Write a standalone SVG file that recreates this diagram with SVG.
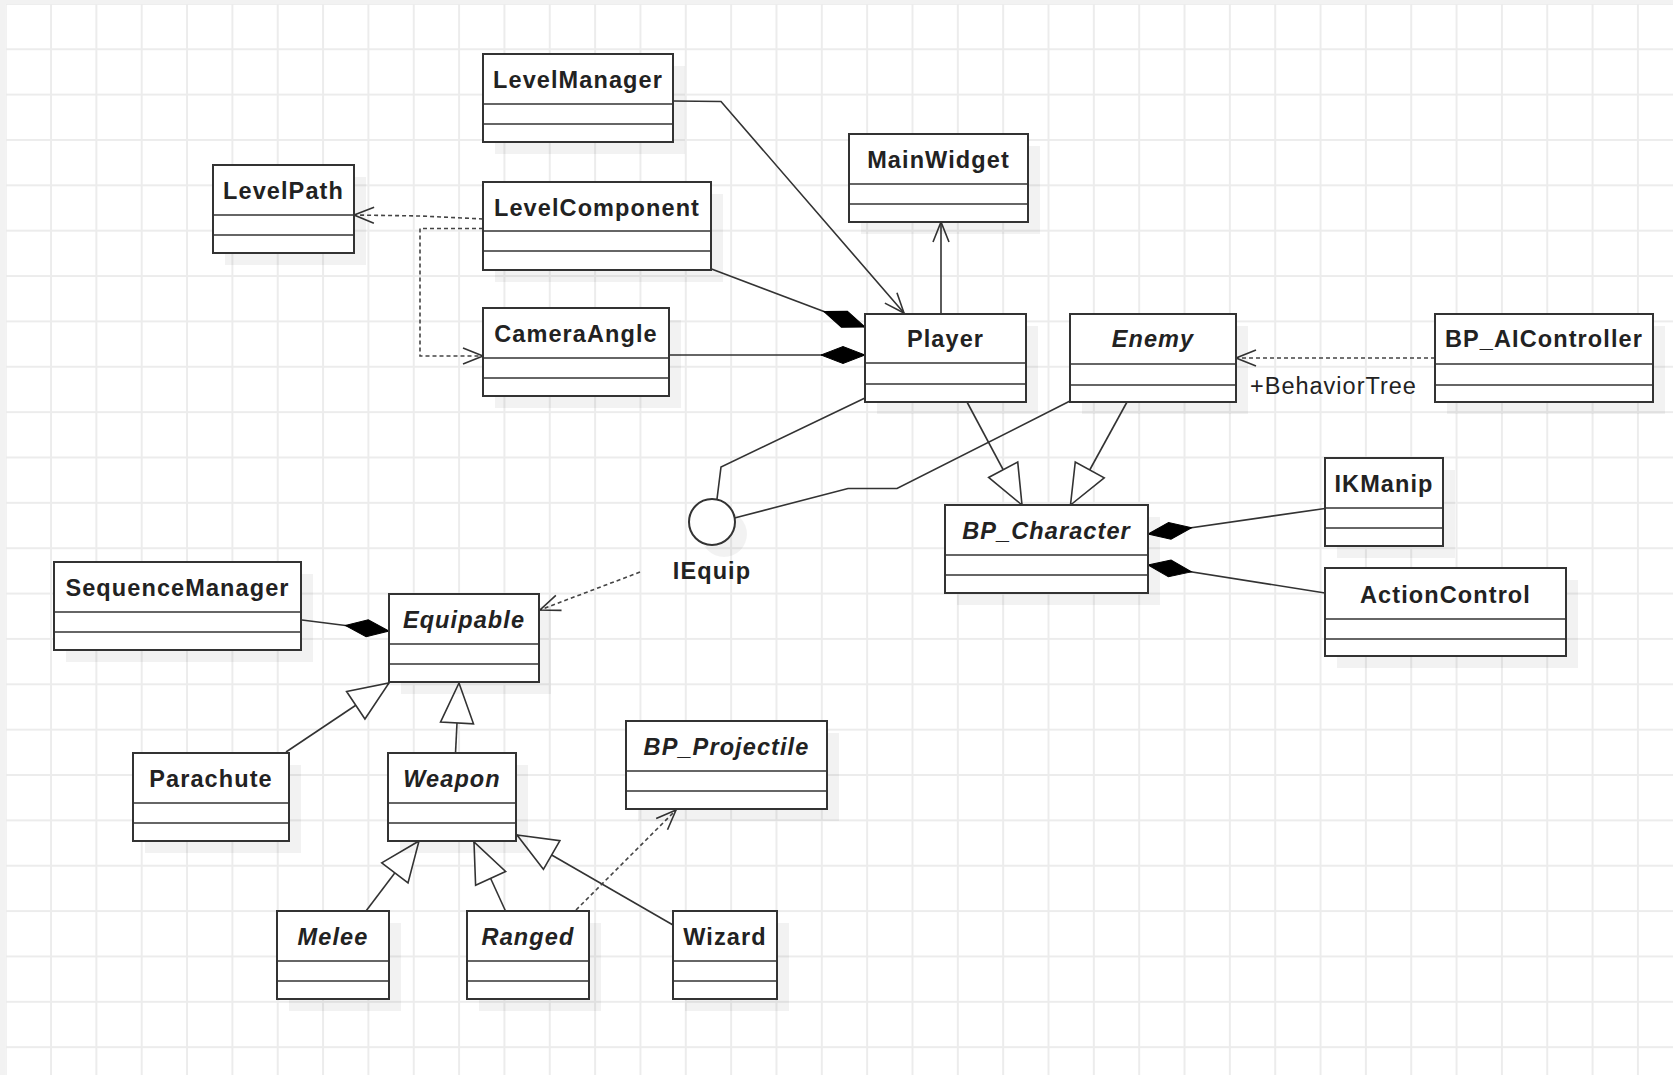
<svg xmlns="http://www.w3.org/2000/svg" width="1673" height="1075" viewBox="0 0 1673 1075">
<style>
.bg{fill:#f2f2f2}
.paper{fill:#ffffff}
.sh{fill:#000;opacity:0.05}
.box{fill:#ffffff;stroke:#333;stroke-width:2}
.div{stroke:#333;stroke-width:1.6}
.name{font-family:"Liberation Sans",Arial,sans-serif;font-size:23.5px;font-weight:bold;letter-spacing:1.1px;fill:#222;text-anchor:middle}
.abs{font-style:italic}
.lbl{font-family:"Liberation Sans",Arial,sans-serif;font-size:23.5px;letter-spacing:1px;fill:#222}
.e{fill:none;stroke:#333;stroke-width:1.6}
.d{fill:none;stroke:#444;stroke-width:1.6;stroke-dasharray:4 3}
</style>
<defs>
<pattern id="grid" x="4.7" y="2.9" width="45.34" height="45.36" patternUnits="userSpaceOnUse">
<path d="M1,0 V45.36 M0,1 H45.34" stroke="#ececec" stroke-width="2" fill="none"/>
</pattern>
<marker id="open" markerUnits="userSpaceOnUse" markerWidth="26" markerHeight="22" refX="21" refY="10" orient="auto" overflow="visible">
<path d="M1,2 L21,10 L1,18" fill="none" stroke="#333" stroke-width="1.6"/>
</marker>
<marker id="tri" markerUnits="userSpaceOnUse" markerWidth="46" markerHeight="38" refX="41" refY="18" orient="auto" overflow="visible">
<path d="M1,1.5 L41,18 L1,34.5 Z" fill="#fff" stroke="#333" stroke-width="1.6"/>
</marker>
<marker id="dia" markerUnits="userSpaceOnUse" markerWidth="48" markerHeight="22" refX="44" refY="10" orient="auto" overflow="visible">
<path d="M0,10 L22,1.5 L44,10 L22,18.5 Z" fill="#000" stroke="#000" stroke-width="1"/>
</marker>
</defs>
<rect class="bg" x="0" y="0" width="1673" height="1075"/>
<rect class="paper" x="5.7" y="3.9" width="1668" height="1072"/>
<rect x="5.7" y="3.9" width="1668" height="1072" fill="url(#grid)"/>

<g id="connectors">
<polyline class="e" points="673,101 721,101.5 904,313" marker-end="url(#open)"/>
<line class="e" x1="941" y1="314" x2="941" y2="222" marker-end="url(#open)"/>
<line class="e" x1="711.5" y1="269" x2="865" y2="327" marker-end="url(#dia)"/>
<line class="e" x1="668.5" y1="355" x2="865" y2="355" marker-end="url(#dia)"/>
<polyline class="d" points="483,219 421,216 354,215" marker-end="url(#open)"/>
<polyline class="d" points="483,228.5 420,228.5 420,356 483,356" marker-end="url(#open)"/>
<line class="d" x1="1435" y1="358" x2="1236" y2="358" marker-end="url(#open)"/>
<line class="e" x1="967" y1="402" x2="1022" y2="505" marker-end="url(#tri)"/>
<line class="e" x1="1127" y1="402" x2="1070.5" y2="505" marker-end="url(#tri)"/>
<line class="e" x1="1325" y1="508.5" x2="1148" y2="534" marker-end="url(#dia)"/>
<line class="e" x1="1325" y1="593" x2="1148" y2="565" marker-end="url(#dia)"/>
<polyline class="e" points="865,398 721,467 717,499"/>
<polyline class="e" points="1070,401 897,488.5 848,488.5 734.5,518"/>
<line class="d" x1="640" y1="572" x2="540" y2="610" marker-end="url(#open)"/>
<line class="e" x1="302" y1="620" x2="389" y2="631" marker-end="url(#dia)"/>
<line class="e" x1="286" y1="752" x2="389" y2="683" marker-end="url(#tri)"/>
<line class="e" x1="455.5" y1="753" x2="459" y2="683" marker-end="url(#tri)"/>
<line class="e" x1="366" y1="911" x2="419" y2="841" marker-end="url(#tri)"/>
<line class="e" x1="505.5" y1="911" x2="474" y2="842" marker-end="url(#tri)"/>
<line class="e" x1="673" y1="925" x2="517" y2="835" marker-end="url(#tri)"/>
<line class="d" x1="576" y1="910" x2="676" y2="810" marker-end="url(#open)"/>
</g>

<g id="LevelManager"><rect class="sh" x="495" y="66" width="190" height="88"/><rect class="box" x="483" y="54" width="190" height="88"/><line class="div" x1="483" y1="104" x2="673" y2="104"/><line class="div" x1="483" y1="124" x2="673" y2="124"/><text class="name" x="578" y="88">LevelManager</text></g>
<g id="LevelPath"><rect class="sh" x="225" y="177" width="141" height="88"/><rect class="box" x="213" y="165" width="141" height="88"/><line class="div" x1="213" y1="215" x2="354" y2="215"/><line class="div" x1="213" y1="235" x2="354" y2="235"/><text class="name" x="283.5" y="199">LevelPath</text></g>
<g id="LevelComponent"><rect class="sh" x="495" y="194" width="228" height="88"/><rect class="box" x="483" y="182" width="228" height="88"/><line class="div" x1="483" y1="231" x2="711" y2="231"/><line class="div" x1="483" y1="251" x2="711" y2="251"/><text class="name" x="597" y="216">LevelComponent</text></g>
<g id="MainWidget"><rect class="sh" x="861" y="146" width="179" height="88"/><rect class="box" x="849" y="134" width="179" height="88"/><line class="div" x1="849" y1="184" x2="1028" y2="184"/><line class="div" x1="849" y1="204" x2="1028" y2="204"/><text class="name" x="938.5" y="168">MainWidget</text></g>
<g id="CameraAngle"><rect class="sh" x="495" y="320" width="186" height="88"/><rect class="box" x="483" y="308" width="186" height="88"/><line class="div" x1="483" y1="358" x2="669" y2="358"/><line class="div" x1="483" y1="378" x2="669" y2="378"/><text class="name" x="576" y="342">CameraAngle</text></g>
<g id="Player"><rect class="sh" x="877" y="326" width="161" height="88"/><rect class="box" x="865" y="314" width="161" height="88"/><line class="div" x1="865" y1="363" x2="1026" y2="363"/><line class="div" x1="865" y1="384" x2="1026" y2="384"/><text class="name" x="945.5" y="347">Player</text></g>
<g id="Enemy"><rect class="sh" x="1082" y="326" width="166" height="88"/><rect class="box" x="1070" y="314" width="166" height="88"/><line class="div" x1="1070" y1="364" x2="1236" y2="364"/><line class="div" x1="1070" y1="385" x2="1236" y2="385"/><text class="name abs" x="1153" y="347">Enemy</text></g>
<g id="BP_AIController"><rect class="sh" x="1447" y="326" width="218" height="88"/><rect class="box" x="1435" y="314" width="218" height="88"/><line class="div" x1="1435" y1="364" x2="1653" y2="364"/><line class="div" x1="1435" y1="385" x2="1653" y2="385"/><text class="name" x="1544" y="347">BP_AIController</text></g>
<g id="IKManip"><rect class="sh" x="1337" y="470" width="118" height="88"/><rect class="box" x="1325" y="458" width="118" height="88"/><line class="div" x1="1325" y1="508" x2="1443" y2="508"/><line class="div" x1="1325" y1="528" x2="1443" y2="528"/><text class="name" x="1384" y="492">IKManip</text></g>
<g id="BP_Character"><rect class="sh" x="957" y="517" width="203" height="88"/><rect class="box" x="945" y="505" width="203" height="88"/><line class="div" x1="945" y1="555" x2="1148" y2="555"/><line class="div" x1="945" y1="575" x2="1148" y2="575"/><text class="name abs" x="1046.5" y="539">BP_Character</text></g>
<g id="ActionControl"><rect class="sh" x="1337" y="580" width="241" height="88"/><rect class="box" x="1325" y="568" width="241" height="88"/><line class="div" x1="1325" y1="619" x2="1566" y2="619"/><line class="div" x1="1325" y1="639" x2="1566" y2="639"/><text class="name" x="1445.5" y="603">ActionControl</text></g>
<g id="SequenceManager"><rect class="sh" x="66" y="574" width="247" height="88"/><rect class="box" x="54" y="562" width="247" height="88"/><line class="div" x1="54" y1="612" x2="301" y2="612"/><line class="div" x1="54" y1="632" x2="301" y2="632"/><text class="name" x="177.5" y="596">SequenceManager</text></g>
<g id="Equipable"><rect class="sh" x="401" y="606" width="150" height="88"/><rect class="box" x="389" y="594" width="150" height="88"/><line class="div" x1="389" y1="644" x2="539" y2="644"/><line class="div" x1="389" y1="664" x2="539" y2="664"/><text class="name abs" x="464" y="628">Equipable</text></g>
<g id="IEquip"><circle cx="724" cy="534" r="23" class="sh"/><circle cx="712" cy="522" r="23" class="box"/><text class="name" x="712" y="579">IEquip</text></g>
<g id="Parachute"><rect class="sh" x="145" y="765" width="156" height="88"/><rect class="box" x="133" y="753" width="156" height="88"/><line class="div" x1="133" y1="803" x2="289" y2="803"/><line class="div" x1="133" y1="823" x2="289" y2="823"/><text class="name" x="211" y="787">Parachute</text></g>
<g id="Weapon"><rect class="sh" x="400" y="765" width="128" height="88"/><rect class="box" x="388" y="753" width="128" height="88"/><line class="div" x1="388" y1="803" x2="516" y2="803"/><line class="div" x1="388" y1="823" x2="516" y2="823"/><text class="name abs" x="452" y="787">Weapon</text></g>
<g id="BP_Projectile"><rect class="sh" x="638" y="733" width="201" height="88"/><rect class="box" x="626" y="721" width="201" height="88"/><line class="div" x1="626" y1="771" x2="827" y2="771"/><line class="div" x1="626" y1="791" x2="827" y2="791"/><text class="name abs" x="726.5" y="755">BP_Projectile</text></g>
<g id="Melee"><rect class="sh" x="289" y="923" width="112" height="88"/><rect class="box" x="277" y="911" width="112" height="88"/><line class="div" x1="277" y1="961" x2="389" y2="961"/><line class="div" x1="277" y1="981" x2="389" y2="981"/><text class="name abs" x="333" y="945">Melee</text></g>
<g id="Ranged"><rect class="sh" x="479" y="923" width="122" height="88"/><rect class="box" x="467" y="911" width="122" height="88"/><line class="div" x1="467" y1="961" x2="589" y2="961"/><line class="div" x1="467" y1="981" x2="589" y2="981"/><text class="name abs" x="528" y="945">Ranged</text></g>
<g id="Wizard"><rect class="sh" x="685" y="923" width="104" height="88"/><rect class="box" x="673" y="911" width="104" height="88"/><line class="div" x1="673" y1="961" x2="777" y2="961"/><line class="div" x1="673" y1="981" x2="777" y2="981"/><text class="name" x="725" y="945">Wizard</text></g>
<text class="lbl" x="1250" y="394">+BehaviorTree</text>
</svg>
